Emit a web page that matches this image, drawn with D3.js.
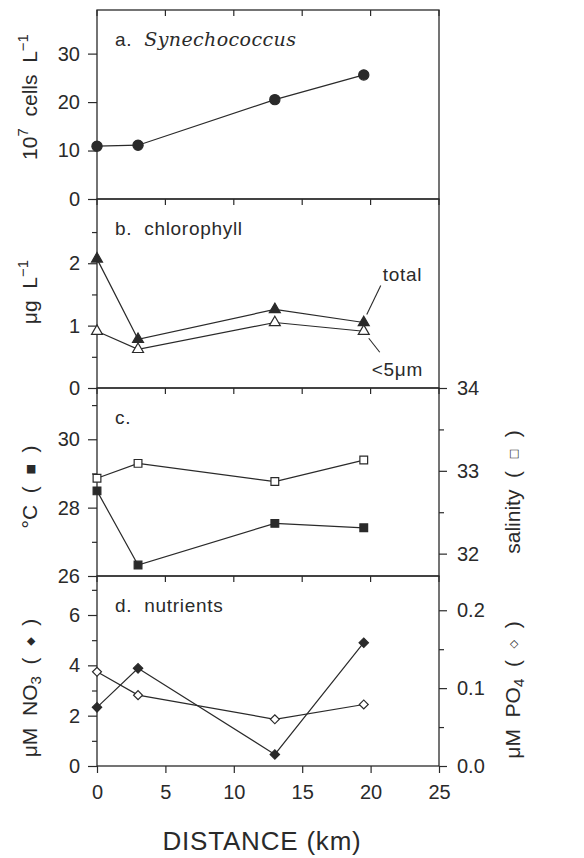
<!DOCTYPE html>
<html>
<head>
<meta charset="utf-8">
<script src="https://cdn.jsdelivr.net/npm/d3@7/dist/d3.min.js"></script>
<style>
    body { margin: 0; background: #fff; }
    svg text { font-family: "Liberation Sans", Arial, sans-serif; fill: #2a2a2a; white-space: pre; }
</style>
</head>
<body>
<svg id="chart" width="584" height="858"></svg>
<script>
// stations along the transect (km)
var distance = [0, 3, 13, 19.5];
var distanceTicks = [0, 5, 10, 15, 20, 25];

// a. Synechococcus, 10^7 cells per L
var synechococcus = [10.9, 11.1, 20.5, 25.6];
var synTicks = [0, 10, 20, 30];

// b. chlorophyll, ug per L
var chlTotal = [2.07, 0.78, 1.26, 1.05];
var chlSmall = [0.91, 0.62, 1.05, 0.91];
var chlTicks = [0, 1, 2];
var chlMinor = [0.5, 1.5, 2.5];

// c. temperature (left) and salinity (right)
var temperature = [28.49, 26.32, 27.54, 27.41];
var salinity = [32.91, 33.09, 32.87, 33.13];
var tempTicks = [26, 28, 30];
var tempMinor = [27, 29, 31];
var salTicks = [32, 33, 34];
var salMinor = [32.5, 33.5];

// d. nutrients, uM
var nitrate = [2.33, 3.88, 0.46, 4.9];
var phosphate = [0.121, 0.091, 0.060, 0.079];
var no3Ticks = [0, 2, 4, 6];
var no3Minor = [1, 3, 5, 7];
var po4Ticks = [0, 0.1, 0.2];
var po4Minor = [0.05, 0.15];

var ink = "#2a2a2a";
var svg = d3.select("#chart");
var x = d3.scaleLinear().domain([0, 25]).range([97, 439]);

function styleAxis(g, size) {
    g.select(".domain").remove();
    g.selectAll("line").attr("stroke", ink).attr("stroke-width", 1.2);
    g.selectAll("text").attr("font-size", size || 20).attr("font-family", null).attr("fill", ink);
}

// frame, inward top ticks, left axis with minor ticks
function drawPanel(top, bottom, domain, ticks, minor) {
    var y = d3.scaleLinear().domain(domain).range([bottom, top]);
    svg.append("rect")
        .attr("x", x(0)).attr("y", top)
        .attr("width", x(25) - x(0)).attr("height", bottom - top)
        .attr("fill", "none").attr("stroke", ink).attr("stroke-width", 1.3);
    svg.append("g").selectAll("line").data(distanceTicks).enter().append("line")
        .attr("x1", function (d) { return x(d); }).attr("x2", function (d) { return x(d); })
        .attr("y1", top).attr("y2", top + 6)
        .attr("stroke", ink).attr("stroke-width", 1.2);
    svg.append("g").attr("transform", "translate(" + x(0) + ",0)")
        .call(d3.axisLeft(y).tickValues(ticks).tickSize(9).tickPadding(8)
            .tickFormat(d3.format(".0f")))
        .call(styleAxis);
    if (minor) {
        svg.append("g").attr("transform", "translate(" + x(0) + ",0)")
            .call(d3.axisLeft(y).tickValues(minor).tickSize(5).tickFormat(""))
            .call(styleAxis);
    }
    return y;
}

function drawRightAxis(y, ticks, minor, fmt) {
    svg.append("g").attr("transform", "translate(" + x(25) + ",0)")
        .call(d3.axisRight(y).tickValues(ticks).tickSize(8).tickPadding(10).tickFormat(d3.format(fmt)))
        .call(styleAxis);
    svg.append("g").attr("transform", "translate(" + x(25) + ",0)")
        .call(d3.axisRight(y).tickValues(minor).tickSize(5).tickFormat(""))
        .call(styleAxis);
}

// rot = 45 turns the square symbol into the plot's diamond
function drawSeries(y, values, symbol, size, filled, rot) {
    var pts = distance.map(function (d, i) { return [d, values[i]]; });
    var line = d3.line()
        .x(function (d) { return x(d[0]); })
        .y(function (d) { return y(d[1]); });
    svg.append("path").datum(pts)
        .attr("d", line)
        .attr("fill", "none").attr("stroke", ink).attr("stroke-width", 1.2);
    svg.append("g").selectAll("path").data(pts).enter().append("path")
        .attr("transform", function (d) {
            return "translate(" + x(d[0]) + "," + y(d[1]) + ") rotate(" + (rot || 0) + ")";
        })
        .attr("d", d3.symbol().type(symbol).size(size))
        .attr("fill", filled ? ink : "#fff")
        .attr("stroke", ink).attr("stroke-width", 1.2);
}

function yTitle(cx, cy, parts) {
    var t = svg.append("text")
        .attr("transform", "translate(" + cx + "," + cy + ") rotate(-90)")
        .attr("text-anchor", "middle")
        .attr("font-size", 21);
    parts.forEach(function (p) {
        var s = t.append("tspan").text(p.t);
        if (p.sup) { s.attr("font-size", 15).attr("baseline-shift", "60%"); }
        if (p.sub) { s.attr("font-size", 15).attr("baseline-shift", "-25%"); }
        if (p.sym) { s.attr("font-size", 11).attr("font-family", "DejaVu Sans").attr("baseline-shift", "25%"); }
    });
}

function panelLabel(top, parts) {
    var t = svg.append("text").attr("x", x(0) + 18).attr("y", top + 36).attr("font-size", 19)
        .attr("letter-spacing", 0.7);
    parts.forEach(function (p) {
        var s = t.append("tspan").text(p.t);
        if (p.it) { s.attr("font-family", "DejaVu Serif").attr("font-style", "italic").attr("letter-spacing", 0.4); }
    });
}

/* a. Synechococcus */
var yA = drawPanel(10, 199, [0, 39], synTicks, null);
drawSeries(yA, synechococcus, d3.symbolCircle, 82, true);
panelLabel(10, [{t: "a.  "}, {t: "Synechococcus", it: true}]);
yTitle(37, 97, [{t: "10"}, {t: "7", sup: true}, {t: "  cells  L"}, {t: "\u22121", sup: true}]);

/* b. chlorophyll */
var yB = drawPanel(199, 388, [0, 3.03], chlTicks, chlMinor);
drawSeries(yB, chlTotal, d3.symbolTriangle, 52, true);
drawSeries(yB, chlSmall, d3.symbolTriangle, 52, false);
panelLabel(199, [{t: "b.  chlorophyll"}]);
yTitle(37, 292, [{t: "\u03bcg  L"}, {t: "\u22121", sup: true}]);

// leader lines for total / <5um, hung off the last station
var lastX = x(distance[3]);
svg.append("line")
    .attr("x1", lastX + 3).attr("y1", yB(chlTotal[3]) - 8)
    .attr("x2", lastX + 17).attr("y2", yB(chlTotal[3]) - 37)
    .attr("stroke", ink).attr("stroke-width", 1.1);
svg.append("text").attr("x", lastX + 19).attr("y", yB(chlTotal[3]) - 42)
    .attr("font-size", 19).attr("letter-spacing", 0.7).text("total");
svg.append("line")
    .attr("x1", lastX + 5).attr("y1", yB(chlSmall[3]) + 7)
    .attr("x2", lastX + 16).attr("y2", yB(chlSmall[3]) + 21)
    .attr("stroke", ink).attr("stroke-width", 1.1);
svg.append("text").attr("x", lastX + 8).attr("y", yB(chlSmall[3]) + 45)
    .attr("font-size", 19).attr("letter-spacing", 0.7).text("<5\u03bcm");

/* c. temperature and salinity */
var yC = drawPanel(388, 576, [26, 31.5], tempTicks, tempMinor);
var yS = d3.scaleLinear().domain([31.73, 34]).range([576, 388]);
drawRightAxis(yS, salTicks, salMinor, ".0f");
drawSeries(yC, temperature, d3.symbolSquare, 60, true);
drawSeries(yS, salinity, d3.symbolSquare, 60, false);
panelLabel(388, [{t: "c."}]);
yTitle(37, 487, [{t: "\u00b0C  (  "}, {t: "\u25a0", sym: true}, {t: "  )"}]);
yTitle(520, 492, [{t: "salinity  (  "}, {t: "\u25a1", sym: true}, {t: "  )"}]);

/* d. nutrients */
var yD = drawPanel(576, 766, [0, 7.55], no3Ticks, no3Minor);
var yP = d3.scaleLinear().domain([0, 0.244]).range([766, 576]);
drawRightAxis(yP, po4Ticks, po4Minor, ".1f");
drawSeries(yP, phosphate, d3.symbolSquare, 40, false, 45);
drawSeries(yD, nitrate, d3.symbolSquare, 44, true, 45);
panelLabel(576, [{t: "d.  nutrients"}]);
yTitle(37, 688, [{t: "\u03bcM  NO"}, {t: "3", sub: true}, {t: "  (  "}, {t: "\u25c6", sym: true}, {t: "  )"}]);
yTitle(520, 690, [{t: "\u03bcM  PO"}, {t: "4", sub: true}, {t: "  (  "}, {t: "\u25c7", sym: true}, {t: "  )"}]);

// shared distance axis
svg.append("g").attr("transform", "translate(0,766)")
    .call(d3.axisBottom(x).tickValues(distanceTicks).tickSize(7).tickPadding(12))
    .call(styleAxis);
svg.append("text").attr("x", (x(0) + x(25)) / 2 - 6).attr("y", 850)
    .attr("text-anchor", "middle").attr("font-size", 26).attr("letter-spacing", 0.8)
    .text("DISTANCE (km)");
</script>
</body>
</html>
